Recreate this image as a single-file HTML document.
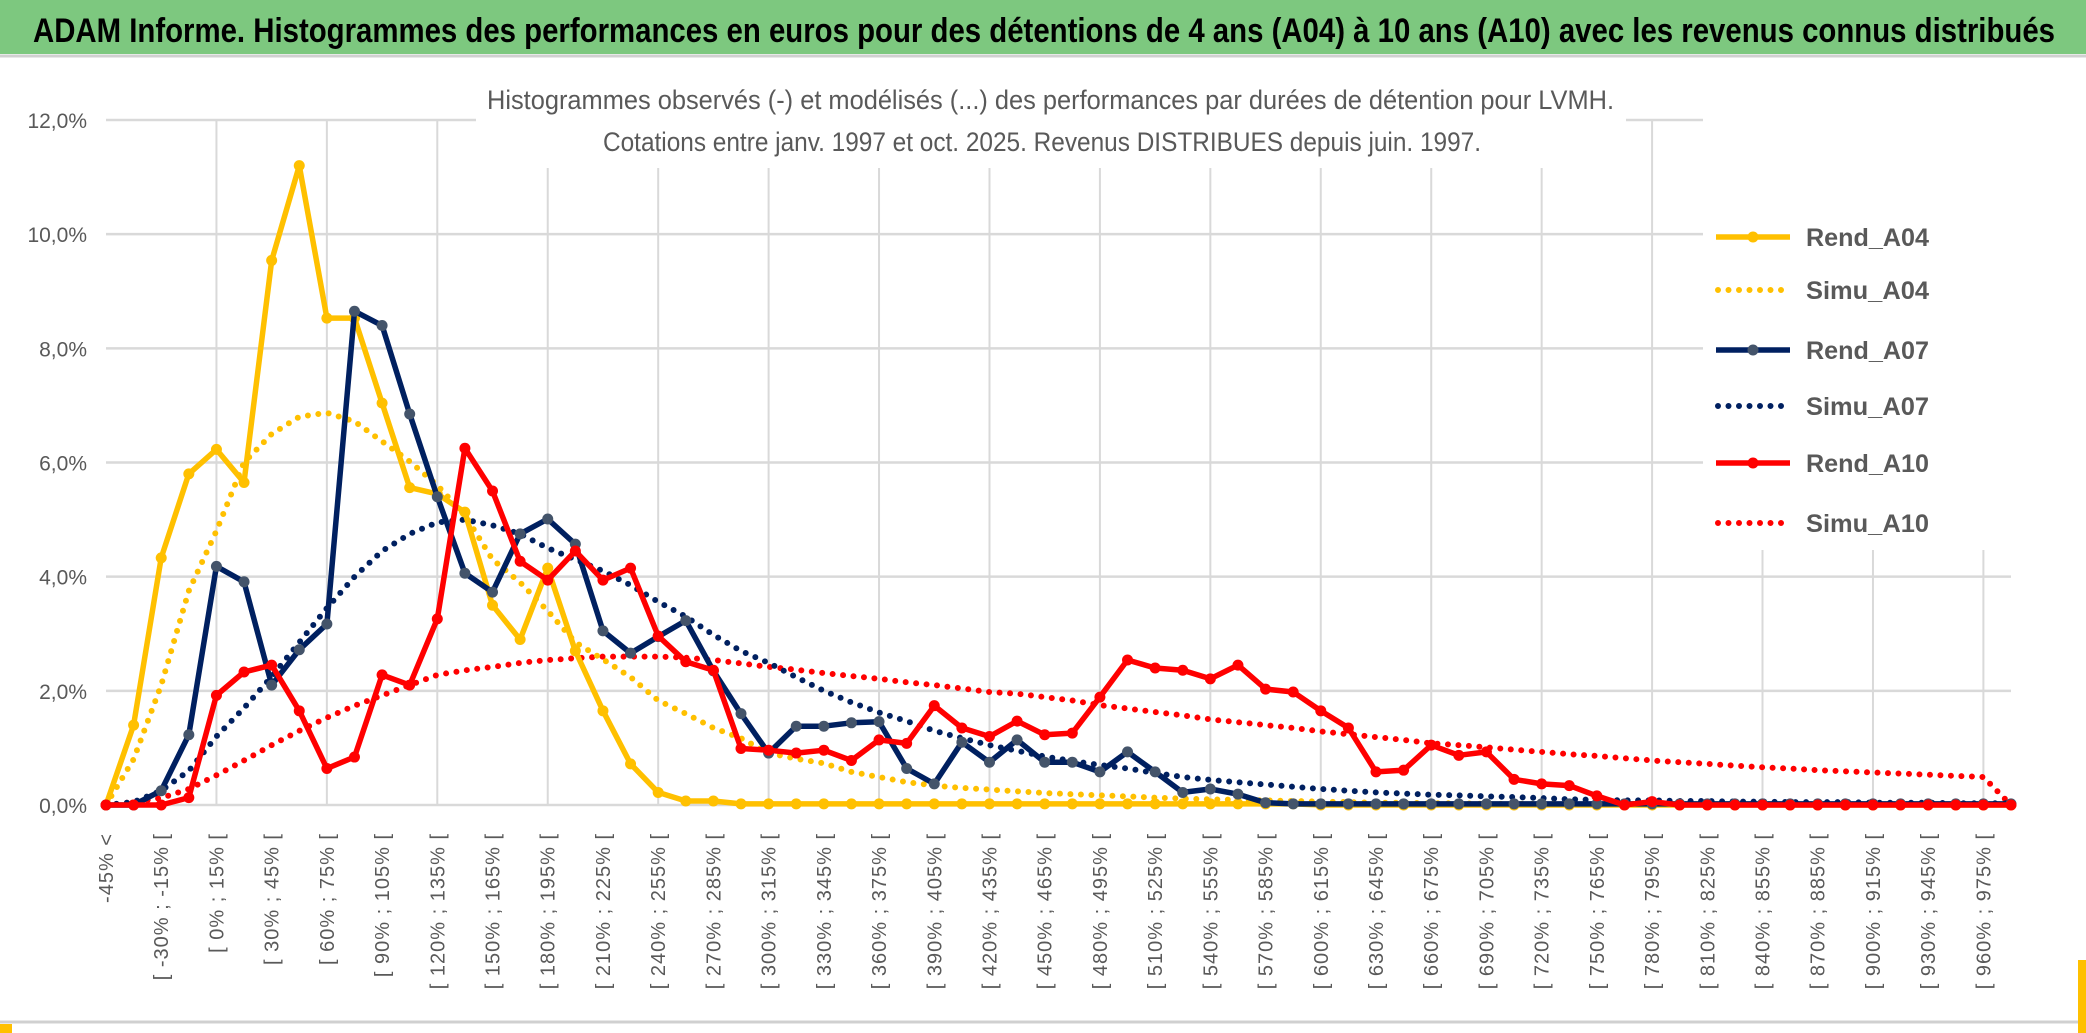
<!DOCTYPE html>
<html><head><meta charset="utf-8"><style>
html,body{margin:0;padding:0;background:#fff;width:2086px;height:1033px;overflow:hidden}
svg{display:block}
</style></head><body>
<svg id="chart" width="2086" height="1033" xmlns="http://www.w3.org/2000/svg">
<rect x="0" y="0" width="2086" height="1033" fill="#fff"/>
<rect x="0" y="0" width="2086" height="54" fill="#7dc87f"/>
<line x1="0" y1="56" x2="2086" y2="56" stroke="#d0d0d0" stroke-width="3"/>
<text x="33" y="42" font-family="Liberation Sans Narrow, Liberation Sans, sans-serif" font-weight="bold" font-size="34" fill="#000" textLength="2022" lengthAdjust="spacingAndGlyphs">ADAM Informe. Histogrammes des performances en euros pour des détentions de 4 ans (A04) à 10 ans (A10) avec les revenus connus distribués</text>
<g id="grid"></g>
<rect x="476" y="78" width="1150" height="90" fill="#fff"/>
<rect x="1703" y="105" width="340" height="445" fill="#fff"/>
<text x="487" y="109" font-family="Liberation Sans Narrow, Liberation Sans, sans-serif" font-size="27" fill="#595959" textLength="1127" lengthAdjust="spacingAndGlyphs">Histogrammes observés (-) et modélisés (...) des performances par durées de détention pour LVMH.</text>
<text x="603" y="151" font-family="Liberation Sans Narrow, Liberation Sans, sans-serif" font-size="27" fill="#595959" textLength="878" lengthAdjust="spacingAndGlyphs">Cotations entre janv. 1997 et oct. 2025. Revenus DISTRIBUES depuis juin. 1997.</text>
<g id="yaxis"></g>
<g id="xaxis"></g>
<g id="series"></g>
<g id="legend"></g>
<line x1="0" y1="1022" x2="2086" y2="1022" stroke="#d0d0d0" stroke-width="3"/>
<rect x="0" y="1024" width="12" height="9" fill="#ffc000"/>
<rect x="2078" y="960" width="8" height="73" fill="#ffc000"/>
</svg>
<script>
const yTicks = [0, 2, 4, 6, 8, 10, 12];
const yTickLabels = ["0,0%", "2,0%", "4,0%", "6,0%", "8,0%", "10,0%", "12,0%"];
const rendA04 = [0,1.4,4.33,5.8,6.23,5.65,9.54,11.2,8.53,8.53,7.04,5.56,5.45,5.13,3.5,2.9,4.15,2.7,1.65,0.72,0.22,0.07,0.07,0.02,0.02,0.02,0.02,0.02,0.02,0.02,0.02,0.02,0.02,0.02,0.02,0.02,0.02,0.02,0.02,0.02,0.02,0.02,0.02,0.02,0,0,0,0,0,0,0,0,0,0,0,0,0,0,0,0,0,0,0,0,0,0,0,0,0,0];
const simuA04 = [0,0.8,2.1,3.75,4.8,6.0,6.5,6.8,6.87,6.72,6.37,6.02,5.6,5.08,4.3,3.9,3.4,2.85,2.55,2.24,1.83,1.6,1.35,1.17,0.91,0.81,0.73,0.58,0.49,0.4,0.34,0.3,0.27,0.24,0.21,0.19,0.17,0.15,0.13,0.11,0.1,0.09,0.08,0.07,0.06,0.05,0.04,0.04,0.03,0.03,0.02,0.02,0.02,0.02,0.01,0.01,0.01,0.01,0.01,0.01,0.01,0.01,0.01,0.01,0.01,0.01,0.01,0.01,0.01,0.01];
const rendA07 = [0,0,0.25,1.23,4.18,3.91,2.1,2.72,3.17,8.65,8.4,6.85,5.4,4.06,3.73,4.75,5.01,4.57,3.05,2.66,2.95,3.23,2.35,1.6,0.91,1.38,1.38,1.44,1.46,0.64,0.37,1.1,0.75,1.14,0.75,0.75,0.58,0.93,0.58,0.22,0.28,0.19,0.04,0.02,0.02,0.02,0.02,0.02,0.02,0.02,0.02,0.02,0.02,0.02,0.02,0.02,0.02,0.02,0.02,0.02,0.02,0.02,0.02,0.02,0.02,0.02,0.02,0.02,0.02,0.02];
const simuA07 = [0,0.05,0.25,0.6,1.2,1.7,2.25,2.85,3.45,4.0,4.45,4.75,4.95,5.0,4.9,4.75,4.5,4.3,4.1,3.85,3.56,3.3,2.98,2.7,2.49,2.24,2.0,1.8,1.62,1.47,1.3,1.17,1.05,0.95,0.85,0.77,0.7,0.64,0.56,0.49,0.44,0.4,0.36,0.32,0.28,0.25,0.22,0.2,0.18,0.17,0.15,0.14,0.12,0.1,0.09,0.08,0.08,0.07,0.07,0.06,0.06,0.05,0.05,0.05,0.04,0.04,0.04,0.03,0.03,0.03];
const rendA10 = [0,0,0,0.13,1.92,2.33,2.45,1.65,0.64,0.84,2.28,2.1,3.26,6.25,5.5,4.27,3.94,4.45,3.94,4.15,2.96,2.51,2.36,0.99,0.96,0.91,0.96,0.78,1.14,1.08,1.74,1.35,1.2,1.47,1.23,1.26,1.89,2.54,2.4,2.36,2.21,2.45,2.03,1.98,1.65,1.35,0.58,0.61,1.05,0.87,0.93,0.45,0.37,0.34,0.16,0,0.06,0,0,0,0,0,0,0,0,0,0,0,0,0];
const simuA10 = [0,0.05,0.12,0.28,0.52,0.78,1.05,1.3,1.53,1.74,1.92,2.1,2.28,2.36,2.42,2.49,2.54,2.57,2.6,2.6,2.6,2.58,2.54,2.48,2.42,2.37,2.31,2.26,2.21,2.15,2.1,2.04,1.98,1.95,1.89,1.83,1.75,1.69,1.63,1.57,1.5,1.45,1.4,1.35,1.29,1.24,1.19,1.14,1.08,1.05,1.01,0.97,0.93,0.89,0.86,0.82,0.78,0.75,0.72,0.69,0.66,0.64,0.61,0.59,0.57,0.55,0.53,0.51,0.49,0];
const seriesNames = ["Rend_A04","Simu_A04","Rend_A07","Simu_A07","Rend_A10","Simu_A10"];

const NS = "http://www.w3.org/2000/svg";
const X0 = 106, X1 = 2011, Y0 = 805, Y12 = 120;
const N = rendA04.length;
function xPos(i){ return X0 + (X1 - X0) * i / (N - 1); }
function yPos(v){ return Y0 - (Y0 - Y12) * v / 12; }
function mk(tag, attrs, parent){ const e = document.createElementNS(NS, tag); for (const k in attrs) e.setAttribute(k, attrs[k]); parent.appendChild(e); return e; }
function catLabel(i){ if (i === 0) return "-45% <"; return "[ " + (-60 + 15*i) + "% ; " + (-45 + 15*i) + "% ["; }

const grid = document.getElementById("grid");
yTicks.forEach(function(t){
  const l = mk("line", {x1: X0, x2: X1, y1: yPos(t), y2: yPos(t), stroke: "#d9d9d9", "stroke-width": 2.5}, grid);
  
  
});
for (let i = 4; i < N; i += 4) {
  const l = mk("line", {x1: xPos(i), x2: xPos(i), y1: Y12, y2: Y0, stroke: "#d9d9d9", "stroke-width": 2}, grid);
  
  
}
const yax = document.getElementById("yaxis");
yTicks.forEach(function(t, k){
  const tx = mk("text", {x: 87, y: yPos(t) + 8, "text-anchor": "end", "font-family": "Liberation Sans Narrow, Liberation Sans, sans-serif", "font-size": 21, fill: "#595959"}, yax);
  tx.textContent = yTickLabels[k];
  
  
});
const xax = document.getElementById("xaxis");
for (let i = 0; i < N; i += 2) {
  const x = xPos(i) + 7;
  const tx = mk("text", {x: 0, y: 0, "text-anchor": "end", transform: "translate(" + x + ",833) rotate(-90)", "font-family": "Liberation Sans, sans-serif", "font-size": 20, "letter-spacing": "1", fill: "#595959"}, xax);
  tx.textContent = catLabel(i);
  
  
}
const sg = document.getElementById("series");
function pathD(arr){ return arr.map(function(v, i){ return (i ? "L" : "M") + xPos(i).toFixed(1) + "," + yPos(v).toFixed(1); }).join(""); }
function dotted(arr, color, name){
  const p = mk("path", {d: pathD(arr), fill: "none", stroke: color, "stroke-width": 6, "stroke-linecap": "round", "stroke-dasharray": "0 10.5"}, sg);
  
  
}
function solid(arr, color, mcolor, name){
  const p = mk("path", {d: pathD(arr), fill: "none", stroke: color, "stroke-width": 5.5, "stroke-linejoin": "round"}, sg);
  
  
  arr.forEach(function(v, i){
    const c = mk("circle", {cx: xPos(i), cy: yPos(v), r: 5.5, fill: mcolor}, sg);
    
    
  });
}
dotted(simuA10, "#ff0000", "simu-a10-line");
dotted(simuA07, "#002060", "simu-a07-line");
dotted(simuA04, "#ffc000", "simu-a04-line");
solid(rendA04, "#ffc000", "#ffc000", "rend-a04-line");
solid(rendA07, "#002060", "#44546a", "rend-a07-line");
solid(rendA10, "#ff0000", "#ff0000", "rend-a10-line");

const lg = document.getElementById("legend");
const legY = [237, 290, 350, 406, 463, 523];
const legColors = ["#ffc000","#ffc000","#002060","#002060","#ff0000","#ff0000"];
seriesNames.forEach(function(n, k){
  const y = legY[k];
  const g = mk("g", {}, lg);
  
  
  if (k % 2 === 0) {
    mk("line", {x1: 1716, x2: 1790, y1: y, y2: y, stroke: legColors[k], "stroke-width": 5.5}, g);
    mk("circle", {cx: 1753, cy: y, r: 5.5, fill: k === 2 ? "#44546a" : legColors[k]}, g);
  } else {
    mk("line", {x1: 1718, x2: 1790, y1: y, y2: y, stroke: legColors[k], "stroke-width": 6, "stroke-linecap": "round", "stroke-dasharray": "0 10.5"}, g);
  }
  const t = mk("text", {x: 1806, y: y + 9, "font-family": "Liberation Sans Narrow, Liberation Sans, sans-serif", "font-weight": "bold", "font-size": 25, fill: "#595959", textLength: 123, lengthAdjust: "spacingAndGlyphs"}, g);
  t.textContent = n;
});
</script>
</body></html>
